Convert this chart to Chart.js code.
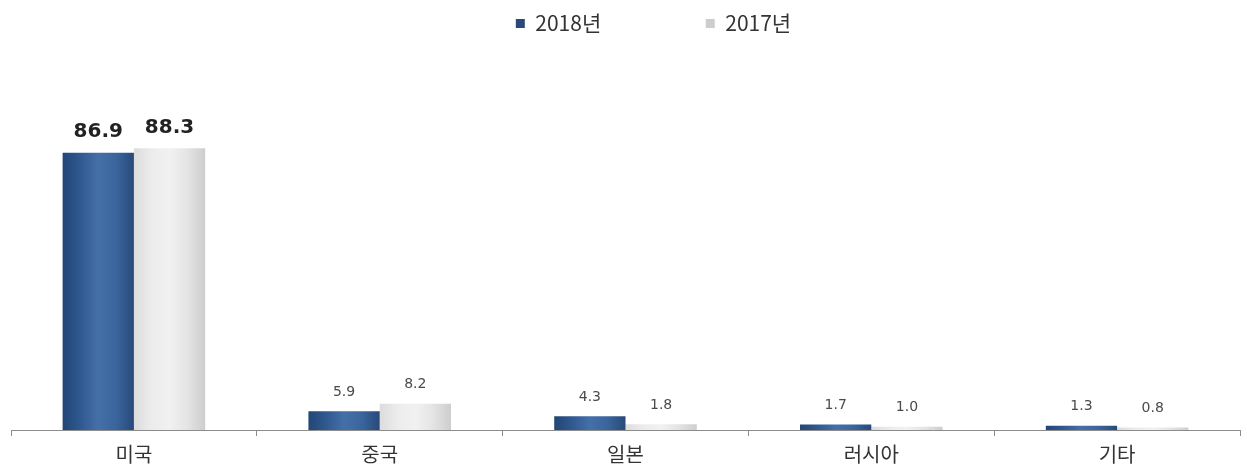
<!DOCTYPE html>
<html>
<head>
<meta charset="utf-8">
<script src="https://cdn.jsdelivr.net/npm/chart.js@4"></script>
<style>
  html, body { margin: 0; padding: 0; background: #fff; }
  #wrap { width: 1247px; height: 467px; }
</style>
</head>
<body>
<div id="wrap"><canvas id="grafico"></canvas></div>
<script>
const categorias = ['미국', '중국', '일본', '러시아', '기타']
const dados2018 = [86.9, 5.9, 4.3, 1.7, 1.3]
const dados2017 = [88.3, 8.2, 1.8, 1.0, 0.8]
const series = ['2018년', '2017년']

const fonteKr = '"Noto Sans CJK KR", "Noto Sans", sans-serif'
const catPct = 0.58

// cylinder-like shading across each bar
const paletas = [
  { solid: '#1f4e8c', stops: ['#224677', '#30598f', '#4470a8', '#3a659c', '#28497a'] },
  { solid: '#d9d9d9', stops: ['#dcdcdc', '#ececec', '#f1f1f1', '#e4e4e4', '#cdcdcd'] }
]

const corBarra = (ctx) => {
  const p = paletas[ctx.datasetIndex]
  if (ctx.type !== 'data' || !ctx.chart.chartArea) return p.solid
  const x = ctx.chart.scales.x
  const largura = x.width / categorias.length * catPct / 2
  const centro = x.getPixelForValue(ctx.dataIndex)
  const esq = ctx.datasetIndex === 0 ? centro - largura : centro
  const g = ctx.chart.ctx.createLinearGradient(esq, 0, esq + largura, 0)
  p.stops.forEach((c, i) => g.addColorStop(i / (p.stops.length - 1), c))
  return g
}

const rotulos = {
  id: 'rotulos',
  afterDatasetsDraw(chart) {
    const c = chart.ctx
    c.save()
    c.textAlign = 'center'
    c.textBaseline = 'middle'
    chart.data.datasets.forEach((ds, i) => {
      chart.getDatasetMeta(i).data.forEach((el, j) => {
        if (j === 0) {
          c.font = 'bold 20px "DejaVu Sans", sans-serif'
          c.fillStyle = '#222'
          c.fillText(ds.data[j].toFixed(1), el.x, el.y - 21)
        } else {
          c.font = '14px "DejaVu Sans", sans-serif'
          c.fillStyle = '#4a4a4a'
          c.fillText(ds.data[j].toFixed(1), el.x, el.y - 19)
        }
      })
    })
    c.restore()
  }
}

// legend sits a bit right of centre in the original
const empurraLegenda = {
  id: 'empurraLegenda',
  afterLayout(chart) {
    chart.legend.left += 28
    chart.legend.right += 28
  }
}

document.addEventListener('DOMContentLoaded', () => {
  const ctx = document.getElementById('grafico')
  new Chart(ctx, {
    type: 'bar',
    data: {
      labels: categorias,
      datasets: [
        { label: series[0], data: dados2018, backgroundColor: corBarra, borderWidth: 0 },
        { label: series[1], data: dados2017, backgroundColor: corBarra, borderWidth: 0 }
      ]
    },
    options: {
      responsive: true,
      maintainAspectRatio: false,
      animation: false,
      events: [],
      layout: { padding: { left: 11, right: 7, top: 3, bottom: -5 } },
      datasets: { bar: { categoryPercentage: catPct, barPercentage: 1 } },
      plugins: {
        tooltip: { enabled: false },
        legend: {
          position: 'top',
          labels: {
            boxWidth: 9,
            boxHeight: 9,
            padding: 10,
            color: '#333',
            font: { family: fonteKr, size: 21 },
            generateLabels(chart) {
              const itens = Chart.defaults.plugins.legend.labels.generateLabels(chart)
              // spacing between the two entries
              itens[0].text = itens[0].text + '\u2003\u2003\u2003\u2003\u2002'
              return itens
            }
          }
        }
      },
      scales: {
        x: {
          grid: { offset: true, drawOnChartArea: false, tickLength: 6, color: '#8c8c8c' },
          border: { color: '#8c8c8c', width: 1 },
          ticks: { color: '#333', padding: 8, font: { family: fonteKr, size: 20, lineHeight: 1 } }
        },
        y: {
          display: false,
          min: 0,
          max: 121
        }
      }
    },
    plugins: [rotulos, empurraLegenda]
  })
})
</script>
</body>
</html>
